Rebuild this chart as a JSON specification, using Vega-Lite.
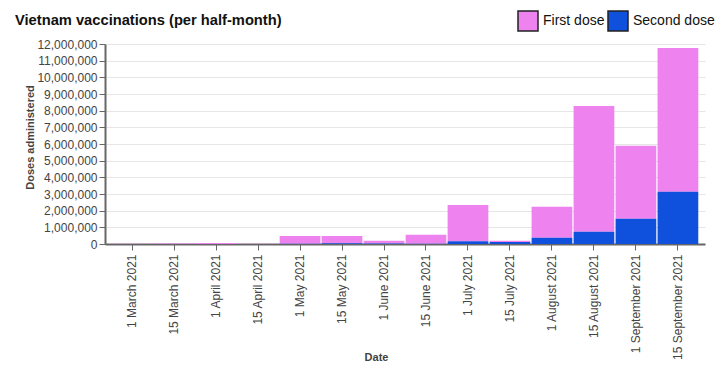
{
  "$schema": "https://vega.github.io/schema/vega-lite/v6.json",
  "width": 600,
  "height": 200,
  "autosize": {"type": "none"},
  "padding": {"left": 105, "top": 44, "right": 16, "bottom": 132},
  "background": "white",
  "title": {
    "text": "Vietnam vaccinations (per half-month)",
    "anchor": "start",
    "frame": "group",
    "dx": -90,
    "dy": 50,
    "offset": 20,
    "baseline": "alphabetic",
    "font": "Liberation Sans",
    "fontSize": 14.7,
    "fontWeight": "bold",
    "color": "#111"
  },
  "data": {
    "values": [
      {"date": "1 March 2021", "dose": "First dose", "doses": 20000},
      {"date": "1 March 2021", "dose": "Second dose", "doses": 0},
      {"date": "15 March 2021", "dose": "First dose", "doses": 30000},
      {"date": "15 March 2021", "dose": "Second dose", "doses": 0},
      {"date": "1 April 2021", "dose": "First dose", "doses": 60000},
      {"date": "1 April 2021", "dose": "Second dose", "doses": 0},
      {"date": "15 April 2021", "dose": "First dose", "doses": 20000},
      {"date": "15 April 2021", "dose": "Second dose", "doses": 0},
      {"date": "1 May 2021", "dose": "First dose", "doses": 470000},
      {"date": "1 May 2021", "dose": "Second dose", "doses": 10000},
      {"date": "15 May 2021", "dose": "First dose", "doses": 440000},
      {"date": "15 May 2021", "dose": "Second dose", "doses": 40000},
      {"date": "1 June 2021", "dose": "First dose", "doses": 170000},
      {"date": "1 June 2021", "dose": "Second dose", "doses": 30000},
      {"date": "15 June 2021", "dose": "First dose", "doses": 530000},
      {"date": "15 June 2021", "dose": "Second dose", "doses": 20000},
      {"date": "1 July 2021", "dose": "First dose", "doses": 2170000},
      {"date": "1 July 2021", "dose": "Second dose", "doses": 170000},
      {"date": "15 July 2021", "dose": "First dose", "doses": 80000},
      {"date": "15 July 2021", "dose": "Second dose", "doses": 120000},
      {"date": "1 August 2021", "dose": "First dose", "doses": 1860000},
      {"date": "1 August 2021", "dose": "Second dose", "doses": 380000},
      {"date": "15 August 2021", "dose": "First dose", "doses": 7540000},
      {"date": "15 August 2021", "dose": "Second dose", "doses": 740000},
      {"date": "1 September 2021", "dose": "First dose", "doses": 4380000},
      {"date": "1 September 2021", "dose": "Second dose", "doses": 1520000},
      {"date": "15 September 2021", "dose": "First dose", "doses": 8620000},
      {"date": "15 September 2021", "dose": "Second dose", "doses": 3140000}
    ]
  },
  "mark": {"type": "bar"},
  "encoding": {
    "x": {
      "field": "date",
      "type": "ordinal",
      "sort": null,
      "scale": {"paddingInner": 0.03, "paddingOuter": 0.16},
      "axis": {
        "title": "Date",
        "labelAngle": -90,
        "labelAlign": "right",
        "labelBaseline": "middle",
        "labelPadding": 4,
        "labelFont": "Liberation Sans",
        "labelFontSize": 12,
        "labelColor": "#444",
        "tickColor": "#666",
        "tickSize": 6,
        "domainColor": "#666",
        "domainWidth": 2,
        "titleFont": "Liberation Sans",
        "titleFontSize": 11,
        "titleFontWeight": "bold",
        "titleColor": "#444",
        "titleX": 271,
        "titleY": 113,
        "titleAlign": "center",
        "titleBaseline": "middle"
      }
    },
    "y": {
      "field": "doses",
      "type": "quantitative",
      "stack": "zero",
      "scale": {"domain": [0, 12000000]},
      "axis": {
        "title": "Doses administered",
        "values": [0, 1000000, 2000000, 3000000, 4000000, 5000000, 6000000, 7000000, 8000000, 9000000, 10000000, 11000000, 12000000],
        "format": ",d",
        "labelFont": "Liberation Sans",
        "labelFontSize": 12,
        "labelColor": "#444",
        "tickColor": "#666",
        "tickSize": 6,
        "domainColor": "#666",
        "domainWidth": 2,
        "gridColor": "#e6e6e6",
        "gridWidth": 1,
        "titleFont": "Liberation Sans",
        "titleFontSize": 11,
        "titleFontWeight": "bold",
        "titleColor": "#444",
        "titleX": -75,
        "titleY": 93,
        "titleAlign": "center",
        "titleBaseline": "middle",
        "titleAngle": -90
      }
    },
    "color": {
      "field": "dose",
      "type": "nominal",
      "scale": {"domain": ["First dose", "Second dose"], "range": ["#ee82ee", "#0f50dc"]},
      "legend": {
        "title": null,
        "orient": "none",
        "direction": "horizontal",
        "legendX": 412,
        "legendY": -34,
        "padding": 0,
        "symbolType": "square",
        "symbolSize": 400,
        "symbolStrokeColor": "#222",
        "symbolStrokeWidth": 1.5,
        "symbolOpacity": 1,
        "labelFont": "Liberation Sans",
        "labelFontSize": 14,
        "labelColor": "#111",
        "labelOffset": 4,
        "columnPadding": 0
      }
    },
    "order": {"field": "dose", "sort": "descending"}
  },
  "config": {"view": {"stroke": null}}
}
